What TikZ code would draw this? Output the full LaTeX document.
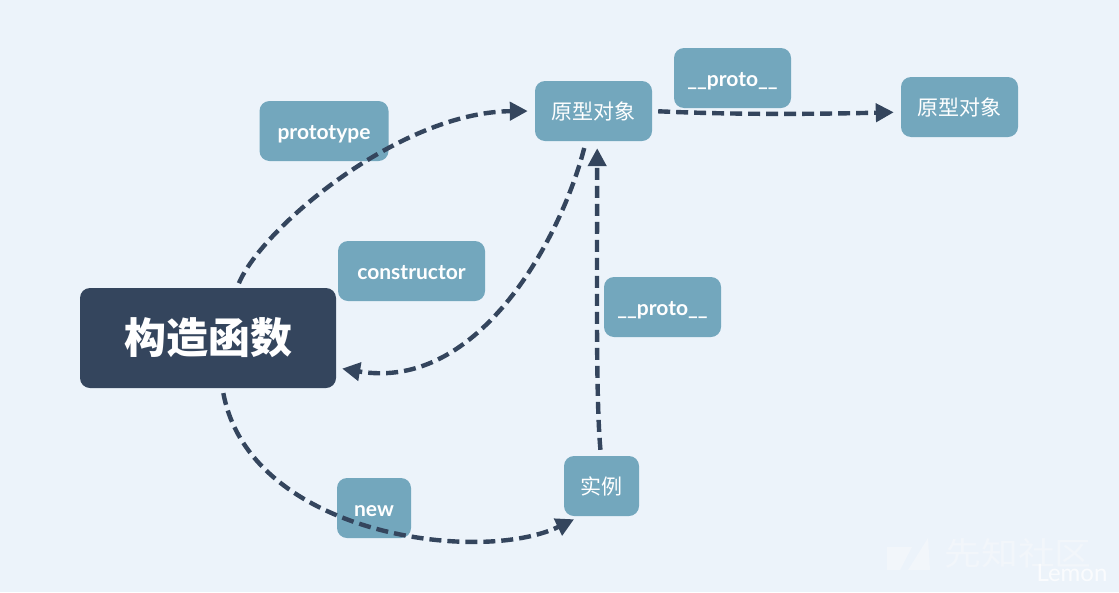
\documentclass[tikz,border=0pt]{standalone}
\usepackage{fontspec}
\setmainfont{Lato}
\newfontfamily\cjk{Noto Sans CJK SC}
\usetikzlibrary{arrows.meta}
\definecolor{bgc}{HTML}{ECF3FA}
\definecolor{dark}{HTML}{34455D}
\definecolor{teal}{HTML}{73A7BD}
\definecolor{faint}{HTML}{F2F6FA}
\tikzset{
  x=1pt,y=-1pt,
  lab/.style={fill=teal,rounded corners=10pt,text=white,inner sep=0pt,minimum height=60pt},
  latin/.style={lab,text height=20pt,text depth=4pt,font=\fontsize{21}{24}\selectfont\bfseries},
  han/.style={lab,text height=18pt,text depth=2pt,font=\fontsize{21}{24}\selectfont\cjk},
  mainbox/.style={fill=dark,rounded corners=10pt,text=white,inner sep=0pt,minimum width=256pt,minimum height=100pt,font=\fontsize{42}{50}\selectfont\cjk\bfseries},
  link/.style={draw=dark,line width=4.4pt,dash pattern=on 12pt off 6pt,-{Triangle[length=18pt,width=18pt,fill=dark]}}
}
\begin{document}
\begin{tikzpicture}
\useasboundingbox[fill=bgc] (0,0) rectangle (1119,592);
\fill[faint] (887,547) -- (912,547) -- (900,570) -- (887,570) -- cycle;
\fill[faint] (928,538) -- (930,570) -- (908,570) -- cycle;
\node[mainbox] (main) at (208,338) {构造函数};
\node[latin,minimum width=129pt] (ptype) at (324,131) {prototype};
\node[latin,minimum width=147pt] (ctor) at (411.5,271) {constructor};
\node[han,minimum width=117pt] (obj) at (593.5,111) {原型对象};
\node[latin,minimum width=117pt] (proto) at (732.5,78) {\_\_proto\_\_};
\node[han,minimum width=117pt] (obj2) at (959.5,107) {原型对象};
\node[latin,minimum width=117pt] (proto2) at (662.5,307) {\_\_proto\_\_};
\node[latin,minimum width=74pt] (newk) at (374,508) {new};
\node[han,minimum width=75pt] (inst) at (601.5,486) {实例};
\draw[link,shorten <=5pt,shorten >=7pt] (main.60.75) .. controls (262,228) and (400,112) .. (obj.west);
\draw[link,shorten <=7pt,shorten >=6pt] (obj.-104) .. controls (562,235) and (480,392) .. (main.-13.2);
\draw[link,shorten <=5pt,shorten >=7pt] (main.-74.4) .. controls (250,535) and (480,565) .. (inst.-125.6);
\draw[link,shorten <=6pt,shorten >=7pt] (inst.91) .. controls (596,400) and (597,300) .. (obj.-83.3);
\draw[link,shorten <=6pt,shorten >=7pt] (obj.east) .. controls (740,115) and (820,114) .. (obj2.185.86);
\node[text=faint,font=\fontsize{32}{34}\selectfont\cjk,xscale=1.15] (site) at (1018,553) {先知社区};
\node[text=white,opacity=.75,font=\fontsize{24}{28}\selectfont] (lemon) at (1072,573) {Lemon};
\end{tikzpicture}
\end{document}
